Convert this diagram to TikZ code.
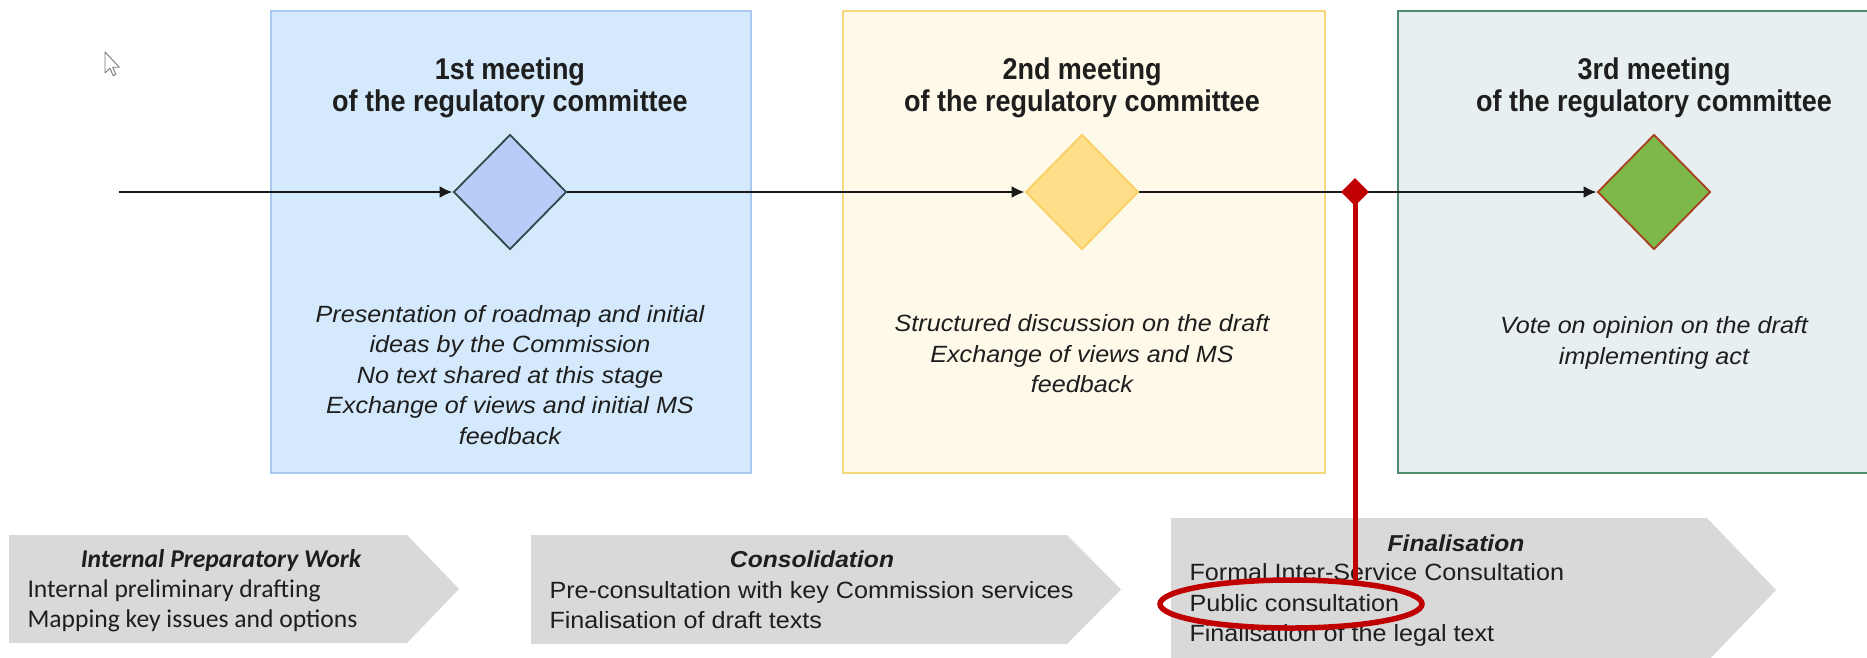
\documentclass[tikz,border=0pt]{standalone}
\usepackage{fontspec}
\setmainfont{Liberation Sans}
\newfontfamily\headfont[FakeStretch=0.9]{Liberation Sans}
\newfontfamily\bodyfont[FakeStretch=1.07]{Liberation Sans}
\newfontfamily\calfont{Carlito}
\usetikzlibrary{shapes.geometric,arrows.meta}
\definecolor{txt}{RGB}{30,30,30}
\definecolor{bAfill}{RGB}{212,233,252}
\definecolor{bAline}{RGB}{168,200,240}
\definecolor{bBfill}{RGB}{254,249,233}
\definecolor{bBline}{RGB}{246,217,125}
\definecolor{bCfill}{RGB}{232,239,241}
\definecolor{bCline}{RGB}{78,138,108}
\definecolor{dAfill}{RGB}{183,205,247}
\definecolor{dAline}{RGB}{45,75,75}
\definecolor{dBfill}{RGB}{255,222,138}
\definecolor{dBline}{RGB}{248,208,98}
\definecolor{dCfill}{RGB}{126,184,72}
\definecolor{dCline}{RGB}{168,62,32}
\definecolor{redmark}{RGB}{192,0,0}
\definecolor{chevgray}{RGB}{217,217,217}
\definecolor{cursorgray}{RGB}{120,120,120}
\begin{document}
\begin{tikzpicture}[x=1pt,y=-1pt,
  meetbox/.style={line width=2pt},
  heading/.style={font=\headfont\bfseries\fontsize{30}{32}\selectfont, align=center, text=txt},
  desc/.style={font=\bodyfont\itshape\fontsize{23.5}{30.5}\selectfont, align=center, text=txt},
  milestone/.style={diamond, minimum width=113pt, minimum height=115pt, inner sep=0pt, line width=1.8pt},
  flow/.style={line width=2.5pt, draw=black!90, -{Latex[length=13pt,width=12pt]}},
  chev/.style={fill=chevgray},
  chevtitle/.style={font=\bodyfont\bfseries\itshape\fontsize{23}{30}\selectfont, text=txt},
  chevtext/.style={font=\bodyfont\fontsize{23.5}{30.5}\selectfont, align=left, anchor=west, text=txt},
  caltitle/.style={font=\calfont\bfseries\itshape\fontsize{25.6}{30}\selectfont, text=txt},
  caltext/.style={font=\calfont\fontsize{25.6}{30.5}\selectfont, align=left, anchor=west, text=txt}
]
\useasboundingbox (0,0) rectangle (1867,657);
\clip (0,0) rectangle (1867,657);
\fill[white] (0,0) rectangle (1867,657);

% meeting boxes
\draw[meetbox, draw=bAline, fill=bAfill] (271,11) rectangle (751,473);
\draw[meetbox, draw=bBline, fill=bBfill] (843,11) rectangle (1325,473);
\draw[meetbox, draw=bCline, fill=bCfill] (1398,11) rectangle (1890,473);

% cursor
\draw[cursorgray, fill=white, line width=0.9pt, line join=round]
  (105,52) -- ++(0,20.8) -- ++(4.9,-4.5) -- ++(3.3,7.4) -- ++(2.6,-1.2) -- ++(-3.1,-7.3) -- ++(6.6,0) -- cycle;

% headings
\node[heading] (h1) at (510,88) {1st meeting\\of the regulatory committee};
\node[heading] (h2) at (1082,88) {2nd meeting\\of the regulatory committee};
\node[heading] (h3) at (1654,88) {3rd meeting\\of the regulatory committee};

% descriptions
\node[desc] (t1) at (510,375) {Presentation of roadmap and initial\\ideas by the Commission\\No text shared at this stage\\Exchange of views and initial MS\\feedback};
\node[desc] (t2) at (1082,354) {Structured discussion on the draft\\Exchange of views and MS\\feedback};
\node[desc] (t3) at (1654,343) {Vote on opinion on the draft\\implementing act};

% timeline
\coordinate (start) at (119,192);
\node[milestone, fill=dAfill, draw=dAline] (d1) at (510,192) {};
\node[milestone, fill=dBfill, draw=dBline] (d2) at (1082,192) {};
\node[milestone, fill=dCfill, draw=dCline] (d3) at (1654,192) {};
\draw[flow] (start) -- (d1.west);
\draw[flow] (d1.east) -- (d2.west);
\draw[flow] (d2.east) -- (d3.west);

% phase chevrons
\fill[chev] (9,535) -- (407,535) -- (459,589) -- (407,643) -- (9,643) -- cycle;
\fill[chev] (531,535) -- (1067,535) -- (1121,589.5) -- (1067,644) -- (531,644) -- cycle;
\fill[chev] (1171,518) -- (1707,518) -- (1776,590) -- (1707,662) -- (1171,662) -- cycle;

\node[caltitle] (c1t) at (221,561) {Internal Preparatory Work};
\node[caltext] (c1b) at (24,606) {Internal preliminary drafting\\Mapping key issues and options};
\node[chevtitle] (c2t) at (812,559) {Consolidation};
\node[chevtext] (c2b) at (546,605) {Pre-consultation with key Commission services\\Finalisation of draft texts};
\node[chevtitle] (c3t) at (1456,543) {Finalisation};
\node[chevtext] (c3b) at (1186,605) {Formal Inter-Service Consultation\\Public consultation\\Finalisation of the legal text};

% red highlight
\node[ellipse, draw=redmark, line width=5.5pt, minimum width=262pt, minimum height=48pt, inner sep=0pt] (ell) at (1291,604) {};
\coordinate (rend) at (1355,582);
\node[diamond, fill=redmark, minimum width=28pt, minimum height=28pt, inner sep=0pt] (rd) at (1355,192) {};
\draw[redmark, line width=5pt] (rd.center) -- (rend);
\end{tikzpicture}
\end{document}
